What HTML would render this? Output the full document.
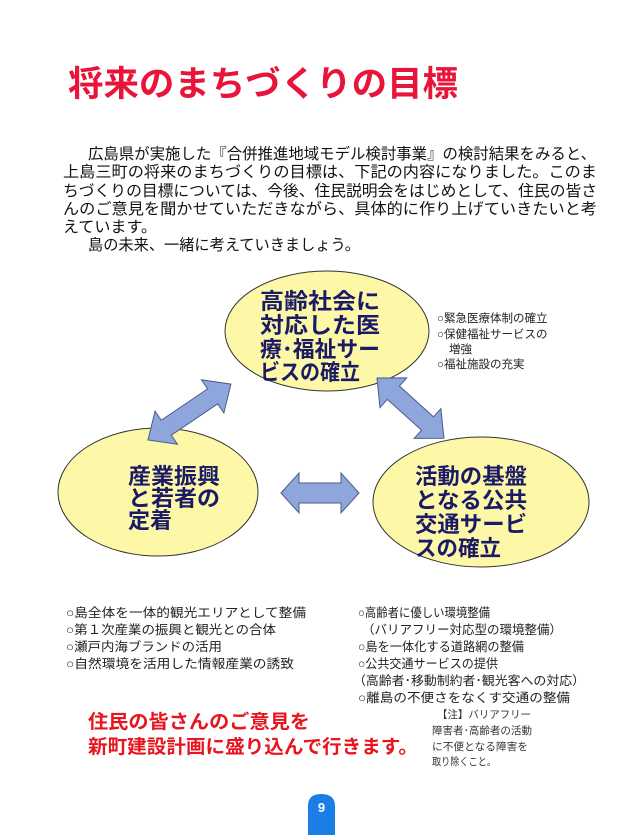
<!DOCTYPE html>
<html><head><meta charset="utf-8"><style>
html,body{margin:0;padding:0;background:#fff;}
svg{display:block;}
text{font-family:"Liberation Sans","Noto Sans CJK JP",sans-serif;}
.b{font-weight:bold;}
</style></head><body>
<svg width="639" height="835" viewBox="0 0 639 835" xmlns="http://www.w3.org/2000/svg">
<text x="68" y="96" font-size="35" class="b" fill="#e8143a" textLength="390" lengthAdjust="spacingAndGlyphs">将来のまちづくりの目標</text>
<g font-size="15.5" fill="#111">
<text x="88" y="159" textLength="508" lengthAdjust="spacingAndGlyphs">広島県が実施した『合併推進地域モデル検討事業』の検討結果をみると、</text>
<text x="63" y="177" textLength="534" lengthAdjust="spacingAndGlyphs">上島三町の将来のまちづくりの目標は、下記の内容になりました。このま</text>
<text x="63" y="196" textLength="534" lengthAdjust="spacingAndGlyphs">ちづくりの目標については、今後、住民説明会をはじめとして、住民の皆さ</text>
<text x="63" y="214" textLength="534" lengthAdjust="spacingAndGlyphs">んのご意見を聞かせていただきながら、具体的に作り上げていきたいと考</text>
<text x="63" y="232" textLength="94" lengthAdjust="spacingAndGlyphs">えています。</text>
<text x="88" y="250" textLength="272" lengthAdjust="spacingAndGlyphs">島の未来、一緒に考えていきましょう。</text>
</g>
<g fill="#fdf7a8" stroke="#333" stroke-width="1">
<ellipse cx="327" cy="331" rx="102" ry="60"/>
<ellipse cx="158" cy="492" rx="100" ry="64"/>
<ellipse cx="481" cy="502" rx="108" ry="65"/>
</g>
<g fill="#8fa6dc" stroke="#4a5a8a" stroke-width="1">
<polygon points="0,0 22,-20 22,-9 78,-9 78,-20 100,0 78,20 78,9 22,9 22,20" transform="translate(148,440) rotate(-34)"/>
<polygon points="0,0 22,-20 22,-9 68,-9 68,-20 90,0 68,20 68,9 22,9 22,20" transform="translate(377,378) rotate(42)"/>
<polygon points="0,0 18,-20 18,-10 60,-10 60,-20 78,0 60,20 60,10 18,10 18,20" transform="translate(281,493)"/>
</g>
<g font-size="22" class="b" fill="#1a1a66">
<text x="260" y="309" textLength="120" lengthAdjust="spacingAndGlyphs">高齢社会に</text>
<text x="260" y="333" textLength="120" lengthAdjust="spacingAndGlyphs">対応した医</text>
<text x="260" y="357" textLength="120" lengthAdjust="spacingAndGlyphs">療･福祉サー</text>
<text x="260" y="380" textLength="100" lengthAdjust="spacingAndGlyphs">ビスの確立</text>
<text x="128" y="484" textLength="92" lengthAdjust="spacingAndGlyphs">産業振興</text>
<text x="128" y="506" textLength="92" lengthAdjust="spacingAndGlyphs">と若者の</text>
<text x="128" y="528" textLength="44" lengthAdjust="spacingAndGlyphs">定着</text>
<text x="415" y="484" textLength="112" lengthAdjust="spacingAndGlyphs">活動の基盤</text>
<text x="415" y="508" textLength="112" lengthAdjust="spacingAndGlyphs">となる公共</text>
<text x="415" y="532" textLength="112" lengthAdjust="spacingAndGlyphs">交通サービ</text>
<text x="415" y="556" textLength="86" lengthAdjust="spacingAndGlyphs">スの確立</text>
</g>
<g font-size="11.5" fill="#222">
<text x="437" y="322">○緊急医療体制の確立</text>
<text x="437" y="338">○保健福祉サービスの</text>
<text x="449" y="353">増強</text>
<text x="437" y="368">○福祉施設の充実</text>
</g>
<g font-size="12.5" fill="#222">
<text x="66" y="617" textLength="240" lengthAdjust="spacingAndGlyphs">○島全体を一体的観光エリアとして整備</text>
<text x="66" y="634" textLength="210" lengthAdjust="spacingAndGlyphs">○第１次産業の振興と観光との合体</text>
<text x="66" y="651" textLength="156" lengthAdjust="spacingAndGlyphs">○瀬戸内海ブランドの活用</text>
<text x="66" y="668" textLength="228" lengthAdjust="spacingAndGlyphs">○自然環境を活用した情報産業の誘致</text>
<text x="358" y="617" textLength="132" lengthAdjust="spacingAndGlyphs">○高齢者に優しい環境整備</text>
<text x="362" y="634" textLength="200" lengthAdjust="spacingAndGlyphs">（バリアフリー対応型の環境整備）</text>
<text x="358" y="651" textLength="166" lengthAdjust="spacingAndGlyphs">○島を一体化する道路網の整備</text>
<text x="358" y="668" textLength="140" lengthAdjust="spacingAndGlyphs">○公共交通サービスの提供</text>
<text x="353" y="685" textLength="232" lengthAdjust="spacingAndGlyphs">（高齢者･移動制約者･観光客への対応）</text>
<text x="358" y="702" textLength="212" lengthAdjust="spacingAndGlyphs">○離島の不便さをなくす交通の整備</text>
</g>
<g font-size="19" class="b" fill="#e8141e">
<text x="88" y="728" textLength="222" lengthAdjust="spacingAndGlyphs">住民の皆さんのご意見を</text>
<text x="88" y="753" textLength="330" lengthAdjust="spacingAndGlyphs">新町建設計画に盛り込んで行きます。</text>
</g>
<g font-size="10.5" fill="#333">
<text x="437" y="718" textLength="94" lengthAdjust="spacingAndGlyphs">【注】バリアフリー</text>
<text x="432" y="734" textLength="100" lengthAdjust="spacingAndGlyphs">障害者･高齢者の活動</text>
<text x="432" y="750" textLength="96" lengthAdjust="spacingAndGlyphs">に不便となる障害を</text>
<text x="432" y="765" textLength="64" lengthAdjust="spacingAndGlyphs">取り除くこと。</text>
</g>
<path d="M308,835 L308,806 Q308,794 321,794 Q335,794 335,806 L335,835 Z" fill="#1a7ee6"/>
<text x="321.5" y="812" font-size="13" class="b" fill="#fff" text-anchor="middle">9</text>
</svg>
</body></html>
